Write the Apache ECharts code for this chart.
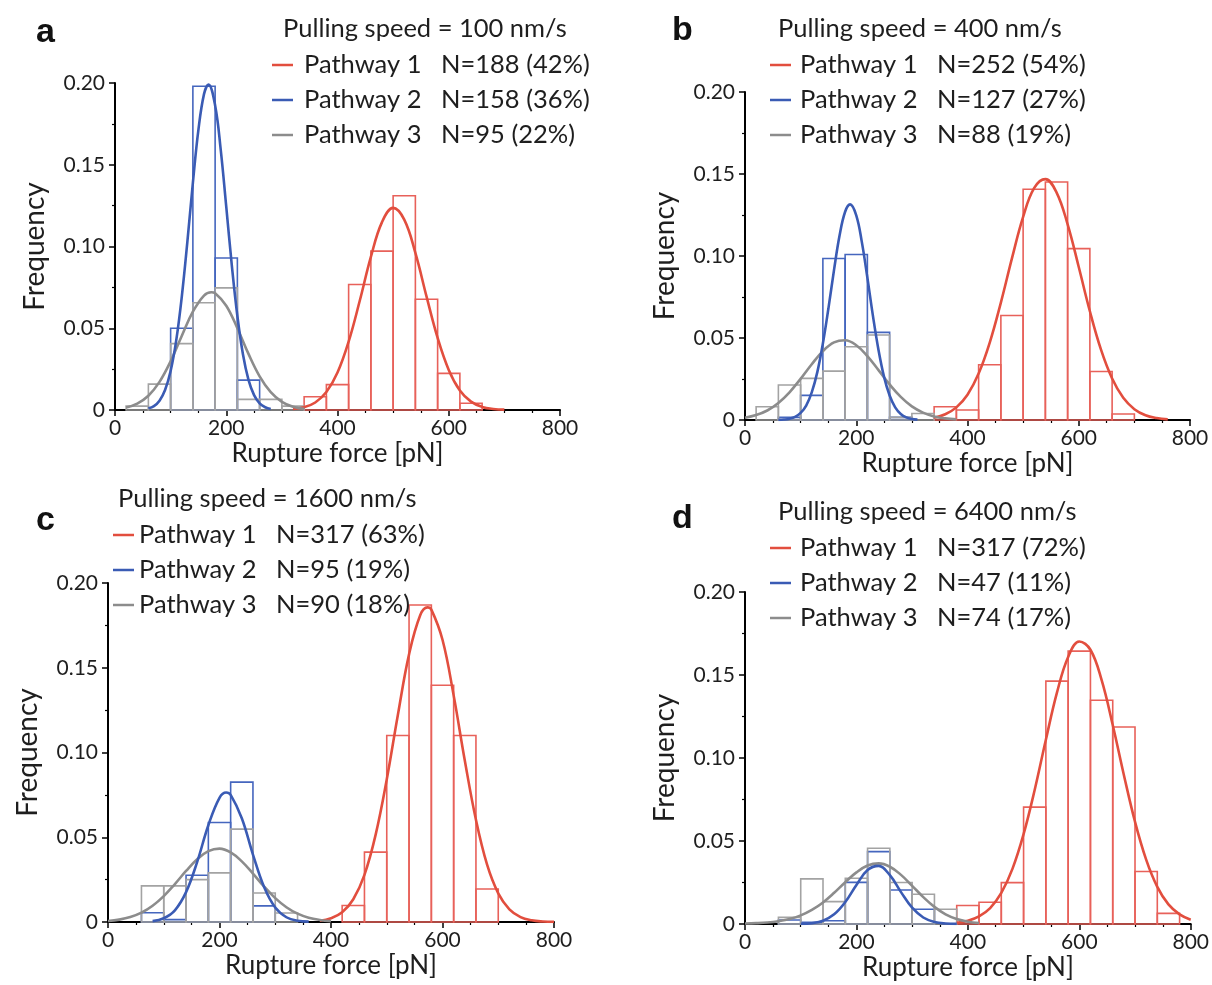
<!DOCTYPE html>
<html><head><meta charset="utf-8">
<script src="https://cdn.jsdelivr.net/npm/echarts@6/dist/echarts.min.js"></script>
<style>html,body{margin:0;padding:0;background:#fff}#c{width:1212px;height:985px}</style>
</head><body><div id="c"></div>
<script>
// ---------- DATA ----------
const BIN_WIDTH = 40; // pN, histogram bin width
const xTicks = [0, 200, 400, 600, 800];
const yTicks = [0, 0.05, 0.10, 0.15, 0.20];

const panelLetters = ['a', 'b', 'c', 'd'];
const panelTitles = ['Pulling speed = 100 nm/s', 'Pulling speed = 400 nm/s', 'Pulling speed = 1600 nm/s', 'Pulling speed = 6400 nm/s'];
const aLegend = ['Pathway 1   N=188 (42%)', 'Pathway 2   N=158 (36%)', 'Pathway 3   N=95 (22%)'];
const bLegend = ['Pathway 1   N=252 (54%)', 'Pathway 2   N=127 (27%)', 'Pathway 3   N=88 (19%)'];
const cLegend = ['Pathway 1   N=317 (63%)', 'Pathway 2   N=95 (19%)', 'Pathway 3   N=90 (18%)'];
const dLegend = ['Pathway 1   N=317 (72%)', 'Pathway 2   N=47 (11%)', 'Pathway 3   N=74 (17%)'];

// histogram bars: [bin centre (pN), frequency]
const aRedBars  = [[360,0.0081],[400,0.0155],[440,0.0768],[480,0.0972],[520,0.131],[560,0.0677],[600,0.0224],[640,0.0041]];
const aBlueBars = [[120,0.050],[160,0.198],[200,0.093],[240,0.0183]];
const aGreyBars = [[40,0.0024],[80,0.0158],[120,0.0406],[160,0.0656],[200,0.0747],[240,0.0065],[280,0.0065],[320,0.0024]];

const bRedBars  = [[360,0.0081],[400,0.0061],[440,0.0337],[480,0.0637],[520,0.1407],[560,0.1451],[600,0.1045],[640,0.0296],[680,0.0037]];
const bBlueBars = [[80,0.0016],[120,0.015],[160,0.0985],[200,0.1009],[240,0.0534],[280,0.0016]];
const bGreyBars = [[40,0.0081],[80,0.0213],[120,0.0254],[160,0.0298],[200,0.0447],[240,0.0518],[280,0.0016],[320,0.004]];

const cRedBars  = [[440,0.0097],[480,0.0412],[520,0.110],[560,0.187],[600,0.1397],[640,0.110],[680,0.0195]];
const cBlueBars = [[80,0.0055],[120,0.0014],[160,0.0276],[200,0.0587],[240,0.0825],[280,0.0095]];
const cGreyBars = [[80,0.0213],[120,0.0213],[160,0.025],[200,0.029],[240,0.0548],[280,0.0171],[320,0.0053]];

const dRedBars  = [[400,0.0111],[440,0.0131],[480,0.0249],[520,0.0704],[560,0.1463],[600,0.1644],[640,0.1348],[680,0.1187],[720,0.0316],[760,0.0064]];
const dBlueBars = [[80,0.0024],[120,0.001],[160,0.002],[200,0.0251],[240,0.0436],[280,0.0205],[320,0.0089]];
const dGreyBars = [[80,0.004],[120,0.0272],[160,0.0135],[200,0.0276],[240,0.0456],[280,0.025],[320,0.0179],[360,0.0089]];

// fitted curves: [force (pN), frequency]
const aRedFit  = [[320,0.0006],[340,0.0017],[360,0.0046],[380,0.0110],[400,0.0229],[420,0.0418],[440,0.0668],[460,0.0936],[480,0.1149],[500,0.1236],[520,0.1164],[540,0.0961],[560,0.0695],[580,0.0441],[600,0.0245],[620,0.0119],[640,0.0051],[660,0.0019],[680,0.0006],[700,0.0002]];
const aBlueFit = [[60,0.0010],[70,0.0024],[80,0.0057],[90,0.0122],[100,0.0238],[110,0.0424],[120,0.0691],[130,0.1025],[140,0.1389],[150,0.1715],[160,0.1932],[168,0.1990],[180,0.1863],[190,0.1594],[200,0.1244],[210,0.0885],[220,0.0575],[230,0.0341],[240,0.0184],[250,0.0091],[260,0.0041],[270,0.0017],[280,0.0006]];
const aGreyFit = [[20,0.0015],[40,0.0039],[60,0.0087],[80,0.0172],[100,0.0298],[120,0.0453],[140,0.0601],[160,0.0700],[173,0.0720],[180,0.0714],[200,0.0638],[220,0.0500],[240,0.0343],[260,0.0206],[280,0.0109],[300,0.0050],[320,0.0020],[340,0.0007]];

const bRedFit  = [[340,0.0014],[360,0.0035],[380,0.0077],[400,0.0154],[420,0.0283],[440,0.0472],[460,0.0716],[480,0.0987],[500,0.1239],[520,0.1415],[540,0.1469],[560,0.1388],[580,0.1193],[600,0.0933],[620,0.0663],[640,0.0429],[660,0.0253],[680,0.0135],[700,0.0066],[720,0.0029],[740,0.0012],[760,0.0004]];
const bBlueFit = [[60,0.0001],[70,0.0003],[80,0.0008],[90,0.0019],[100,0.0043],[110,0.0088],[120,0.0168],[130,0.0292],[140,0.0466],[150,0.0681],[160,0.0914],[170,0.1125],[180,0.1270],[189,0.1315],[200,0.1248],[210,0.1086],[220,0.0868],[230,0.0635],[240,0.0427],[250,0.0263],[260,0.0149],[270,0.0077],[280,0.0037],[290,0.0016],[300,0.0006],[310,0.0002]];
const bGreyFit = [[0,0.0014],[20,0.0030],[40,0.0058],[60,0.0104],[80,0.0169],[100,0.0251],[120,0.0340],[140,0.0420],[160,0.0473],[180,0.0486],[200,0.0456],[220,0.0390],[240,0.0304],[260,0.0217],[280,0.0141],[300,0.0083],[320,0.0045],[340,0.0022],[360,0.0010],[380,0.0004]];

const cRedFit  = [[380,0.0007],[400,0.0022],[420,0.0057],[440,0.0134],[460,0.0278],[480,0.0514],[500,0.0841],[520,0.1223],[540,0.1579],[560,0.1810],[573,0.1856],[580,0.1843],[600,0.1665],[620,0.1337],[640,0.0953],[660,0.0603],[680,0.0338],[700,0.0169],[720,0.0075],[740,0.0029],[760,0.0010],[780,0.0003],[800,0.0001]];
const cBlueFit = [[80,0.0005],[100,0.0022],[120,0.0069],[140,0.0176],[160,0.0355],[180,0.0571],[200,0.0733],[212,0.0764],[220,0.0750],[240,0.0612],[260,0.0398],[280,0.0206],[300,0.0085],[320,0.0028],[340,0.0007],[360,0.0002]];
const cGreyFit = [[0,0.0006],[20,0.0014],[40,0.0029],[60,0.0055],[80,0.0096],[100,0.0153],[120,0.0224],[140,0.0301],[160,0.0370],[180,0.0418],[200,0.0433],[220,0.0411],[240,0.0358],[260,0.0286],[280,0.0209],[300,0.0141],[320,0.0087],[340,0.0049],[360,0.0025],[380,0.0012],[400,0.0005]];

const dRedFit  = [[380,0.0008],[400,0.0020],[420,0.0046],[440,0.0096],[460,0.0187],[480,0.0332],[500,0.0541],[520,0.0809],[540,0.1110],[560,0.1395],[580,0.1609],[600,0.1702],[620,0.1652],[640,0.1470],[660,0.1199],[680,0.0898],[700,0.0616],[720,0.0388],[740,0.0224],[760,0.0118],[780,0.0058],[800,0.0026]];
const dBlueFit = [[100,0.0001],[120,0.0005],[140,0.0020],[160,0.0058],[180,0.0132],[200,0.0235],[220,0.0325],[240,0.0350],[260,0.0294],[280,0.0192],[300,0.0098],[320,0.0039],[340,0.0012],[360,0.0003],[380,0.0001]];
const dGreyFit = [[0,0.0003],[20,0.0005],[40,0.0009],[60,0.0017],[80,0.0030],[100,0.0052],[120,0.0085],[140,0.0130],[160,0.0188],[180,0.0252],[200,0.0311],[220,0.0352],[240,0.0365],[260,0.0345],[280,0.0296],[300,0.0230],[320,0.0162],[340,0.0103],[360,0.0058],[380,0.0030],[400,0.0014],[420,0.0006]];

// ---------- STYLE / LAYOUT ----------
const FONT = 'Lato, "Open Sans", sans-serif';
const TXT = '#1e1e1e';
const LINE_COLORS = ['#E24E3E', '#3A5BB4', '#8C8C8C'];
const BAR_COLORS  = ['#E8615A', '#4566BE', '#A3A3A3'];

const panels = [
  { grid:{left:115, top:83,  width:445, height:327}, title:[283,16],  legend:[272,52],  legendPad:6, letter:[36,16],  legendText:aLegend, bars:[aRedBars,aBlueBars,aGreyBars], fits:[aRedFit,aBlueFit,aGreyFit] },
  { grid:{left:745, top:92,  width:445, height:328}, title:[778,16],  legend:[770,52],  legendPad:4, letter:[672,14], legendText:bLegend, bars:[bRedBars,bBlueBars,bGreyBars], fits:[bRedFit,bBlueFit,bGreyFit] },
  { grid:{left:108, top:583, width:446, height:339}, title:[118,486], legend:[113,522], legendPad:0, letter:[36,504], legendText:cLegend, bars:[cRedBars,cBlueBars,cGreyBars], fits:[cRedFit,cBlueFit,cGreyFit] },
  { grid:{left:745, top:592, width:446, height:332}, title:[778,499], legend:[770,535], legendPad:4, letter:[672,502], legendText:dLegend, bars:[dRedBars,dBlueBars,dGreyBars], fits:[dRedFit,dBlueFit,dGreyFit] }
];

function barRenderer(color) {
  return function (params, api) {
    const x = api.value(0), y = api.value(1);
    const p0 = api.coord([x - BIN_WIDTH / 2, 0]);
    const p1 = api.coord([x + BIN_WIDTH / 2, y]);
    return {
      type: 'rect',
      shape: { x: p0[0], y: p1[1], width: p1[0] - p0[0], height: p0[1] - p1[1] },
      style: { fill: 'none', stroke: color, lineWidth: 1.6 }
    };
  };
}

const option = {
  backgroundColor: '#fff',
  animation: false,
  title: [], legend: [], grid: [], xAxis: [], yAxis: [], series: [], graphic: []
};

panels.forEach((p, i) => {
  option.grid.push(Object.assign({ containLabel: false }, p.grid));
  option.title.push({
    text: panelTitles[i], left: p.title[0], top: p.title[1], padding: 0,
    textStyle: { fontFamily: FONT, fontSize: 25.5, fontWeight: 'normal', color: TXT }
  });
  option.legend.push({
    data: p.legendText, orient: 'vertical', left: p.legend[0], top: p.legend[1], padding: 0,
    itemGap: 9, itemWidth: 21, itemHeight: 2.5, icon: 'rect', selectedMode: false,
    textStyle: { fontFamily: FONT, fontSize: 25.5, color: TXT, lineHeight: 25.5, padding: [0, 0, 0, p.legendPad] }
  });
  option.xAxis.push({
    type: 'value', gridIndex: i, min: xTicks[0], max: xTicks[xTicks.length - 1], interval: 200,
    name: 'Rupture force [pN]', nameLocation: 'middle', nameGap: 31,
    nameTextStyle: { fontFamily: FONT, fontSize: 26, color: TXT },
    axisLine: { show: true, onZero: false, lineStyle: { color: '#000', width: 2 } },
    axisTick: { show: true, length: 6, lineStyle: { color: '#000', width: 1.5 } },
    minorTick: { show: true, splitNumber: 4, length: 3, lineStyle: { color: '#000', width: 1.2 } },
    splitLine: { show: false },
    axisLabel: { fontFamily: FONT, fontSize: 21, color: TXT, margin: 8 }
  });
  option.yAxis.push({
    type: 'value', gridIndex: i, min: yTicks[0], max: yTicks[yTicks.length - 1], interval: 0.05,
    name: 'Frequency', nameLocation: 'middle', nameGap: 66, nameRotate: 90,
    nameTextStyle: { fontFamily: FONT, fontSize: 28, color: TXT },
    axisLine: { show: true, lineStyle: { color: '#000', width: 2 } },
    axisTick: { show: true, length: 6, lineStyle: { color: '#000', width: 1.5 } },
    minorTick: { show: true, splitNumber: 2, length: 3, lineStyle: { color: '#000', width: 1.2 } },
    splitLine: { show: false },
    axisLabel: { fontFamily: FONT, fontSize: 21, color: TXT, margin: 10,
      formatter: v => (v === 0 ? '0' : v.toFixed(2)) }
  });
  // bars: red, blue, grey (grey drawn over blue)
  p.bars.forEach((data, k) => {
    option.series.push({
      type: 'custom', name: panelLetters[i] + '-bars-' + (k + 1), xAxisIndex: i, yAxisIndex: i,
      data: data, encode: { x: 0, y: 1 }, renderItem: barRenderer(BAR_COLORS[k]), z: 2, silent: true
    });
  });
  p.fits.forEach((data, k) => {
    option.series.push({
      type: 'line', name: p.legendText[k], xAxisIndex: i, yAxisIndex: i, data: data,
      smooth: 0.4, showSymbol: false, symbol: 'none', z: 3 + (k === 1 ? 1 : 0), silent: true,
      itemStyle: { color: LINE_COLORS[k] },
      lineStyle: { color: LINE_COLORS[k], width: 2.6 }
    });
  });
  option.graphic.push({
    type: 'text', left: p.letter[0], top: p.letter[1],
    style: { text: panelLetters[i], fontFamily: '"Liberation Sans", Arial, sans-serif', fontSize: 34, fontWeight: 'bold', fill: '#111' }
  });
});

const chart = echarts.init(document.getElementById('c'), null, { renderer: 'canvas', width: 1212, height: 985 });
chart.setOption(option);
</script></body></html>
